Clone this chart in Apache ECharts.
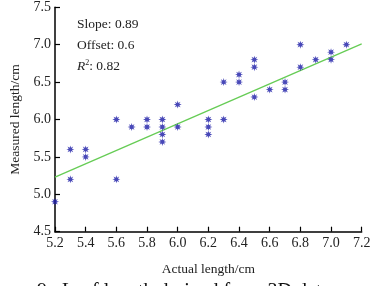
<!DOCTYPE html>
<html><head><meta charset="utf-8">
<script src="https://cdn.jsdelivr.net/npm/echarts@6/dist/echarts.min.js"></script>
<style>html,body{margin:0;padding:0;background:#fff}#c{width:379px;height:286px}</style>
</head><body><div id="c"></div>
<script>
const actualX = [5.2,5.3,5.3,5.4,5.4,5.6,5.6,5.7,5.8,5.8,5.9,5.9,5.9,5.9,6.0,6.0,6.2,6.2,6.2,6.3,6.3,6.4,6.4,6.5,6.5,6.5,6.6,6.7,6.7,6.8,6.8,6.9,7.0,7.0,7.1];
const measuredY = [4.9,5.6,5.2,5.6,5.5,6.0,5.2,5.9,6.0,5.9,6.0,5.8,5.7,5.9,6.2,5.9,6.0,5.9,5.8,6.5,6.0,6.6,6.5,6.8,6.7,6.3,6.4,6.5,6.4,7.0,6.7,6.8,6.9,6.8,7.0];
const fitLine = [[5.2,5.23],[7.2,7.01]];
const xTicks = [5.2,5.4,5.6,5.8,6.0,6.2,6.4,6.6,6.8,7.0,7.2];
const yTicks = [4.5,5.0,5.5,6.0,6.5,7.0,7.5];
const statsText = ['Slope: 0.89','Offset: 0.6','0.82'];

const star = 'path://M0,-1L0.172,-0.416L0.707,-0.707L0.416,-0.172L1,0L0.416,0.172L0.707,0.707L0.172,0.416L0,1L-0.172,0.416L-0.707,0.707L-0.416,0.172L-1,0L-0.416,-0.172L-0.707,-0.707L-0.172,-0.416Z';
const F = '"Liberation Serif","Times New Roman",serif';
const chart = echarts.init(document.getElementById('c'), null, {renderer:'canvas'});
const axisCommon = {
  axisLine:{show:true,lineStyle:{color:'#000',width:1.5}},
  axisTick:{show:true,inside:true,length:5,lineStyle:{color:'#000',width:1.2}},
  splitLine:{show:false},
  axisLabel:{color:'#222',fontFamily:F,fontSize:14},
  nameTextStyle:{color:'#222',fontFamily:F,fontSize:13.5}
};
chart.setOption({
  animation:false,
  grid:{left:49.3,right:17.3,top:7.3,bottom:54.3},
  xAxis:Object.assign({},axisCommon,{type:'value',min:5.2,max:7.2,interval:0.2,
    axisLabel:Object.assign({},axisCommon.axisLabel,{margin:5,formatter:v=>v.toFixed(1)}),
    name:'Actual length/cm',nameLocation:'middle',nameGap:31}),
  yAxis:Object.assign({},axisCommon,{type:'value',min:4.5,max:7.5,interval:0.5,
    axisLabel:Object.assign({},axisCommon.axisLabel,{margin:4,formatter:v=>v.toFixed(1)}),
    name:'Measured length/cm',nameLocation:'middle',nameGap:33}),
  series:[
    {type:'line',data:fitLine,symbol:'none',lineStyle:{color:'#66cc55',width:1.3},z:1},
    {type:'scatter',data:actualX.map((x,i)=>[x,measuredY[i]]),symbol:star,symbolSize:8,
     itemStyle:{color:'#1a1aa6'},z:2}
  ],
  graphic:[
    {type:'text',left:77,top:17,style:{text:statsText[0],font:'13.5px '+F,fill:'#222'}},
    {type:'text',left:77,top:38,style:{text:statsText[1],font:'13.5px '+F,fill:'#222'}},
    {type:'text',left:77,top:59,style:{text:'{r|R}{s|2}: '+statsText[2],font:'13.5px '+F,fill:'#222',
      rich:{r:{fontFamily:F,fontSize:13.5,fontStyle:'italic',fill:'#222'},s:{fontFamily:F,fontSize:8,verticalAlign:'top',fill:'#222',padding:[0,0,6,0]}}}},
    {type:'text',left:37,top:282,style:{text:'9   Leaf length derived from 3D data',font:'20px '+F,fill:'#111'}}
  ]
});
</script></body></html>
